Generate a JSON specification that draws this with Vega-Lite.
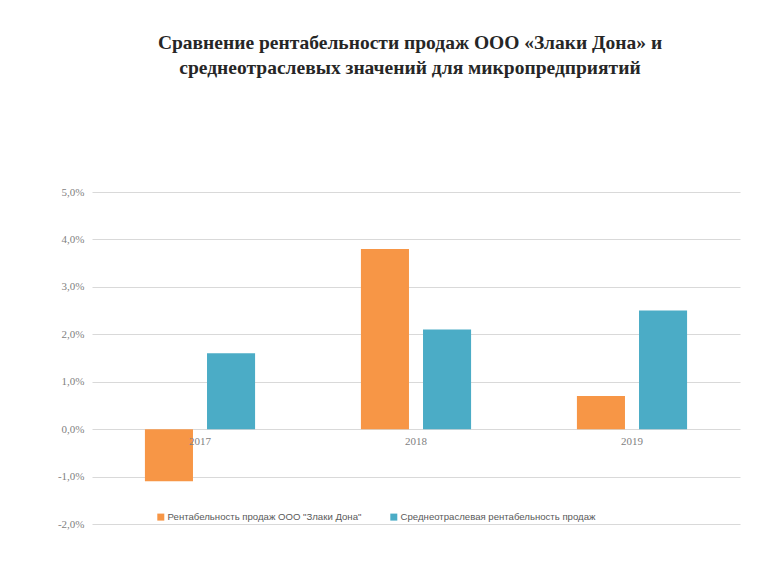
{
  "$schema": "https://vega.github.io/schema/vega-lite/v6.json",
  "width": 648,
  "height": 332,
  "autosize": {"type": "none"},
  "padding": {"left": 92, "top": 192, "right": 28, "bottom": 52},
  "background": "white",
  "config": {"view": {"stroke": null}, "font": "Liberation Serif"},
  "title": {
    "text": ["Сравнение рентабельности продаж ООО «Злаки Дона»  и", "среднеотраслевых значений для микропредприятий"],
    "font": "Liberation Serif",
    "fontSize": 19.5,
    "fontWeight": "bold",
    "color": "#262626",
    "anchor": "middle",
    "offset": 108,
    "lineHeight": 25,
    "dx": -6
  },
  "data": {
    "values": [
      {"year": "2017", "series": "Рентабельность продаж ООО \"Злаки Дона\"", "value": -0.011},
      {"year": "2017", "series": "Среднеотраслевая рентабельность продаж", "value": 0.016},
      {"year": "2018", "series": "Рентабельность продаж ООО \"Злаки Дона\"", "value": 0.038},
      {"year": "2018", "series": "Среднеотраслевая рентабельность продаж", "value": 0.021},
      {"year": "2019", "series": "Рентабельность продаж ООО \"Злаки Дона\"", "value": 0.007},
      {"year": "2019", "series": "Среднеотраслевая рентабельность продаж", "value": 0.025}
    ]
  },
  "mark": {"type": "bar"},
  "encoding": {
    "x": {
      "field": "year",
      "type": "nominal",
      "scale": {"paddingInner": 0.49, "paddingOuter": 0.245},
      "axis": {
        "title": null,
        "labelAngle": 0,
        "domain": false,
        "ticks": false,
        "offset": -95,
        "labelFont": "Liberation Serif",
        "labelFontSize": 11,
        "labelColor": "#7f7f7f",
        "labelPadding": 6,
        "zindex": 1
      }
    },
    "xOffset": {
      "field": "series",
      "type": "nominal",
      "scale": {
        "domain": ["Рентабельность продаж ООО \"Злаки Дона\"", "Среднеотраслевая рентабельность продаж"],
        "paddingInner": 0.226,
        "paddingOuter": 0
      }
    },
    "y": {
      "field": "value",
      "type": "quantitative",
      "scale": {"domain": [-0.02, 0.05], "nice": false},
      "axis": {
        "title": null,
        "values": [-0.02, -0.01, 0, 0.01, 0.02, 0.03, 0.04, 0.05],
        "labelExpr": "replace(replace(format(datum.value, '.1%'), '.', ','), '−', '-')",
        "domain": false,
        "ticks": false,
        "grid": true,
        "gridColor": "#d9d9d9",
        "gridWidth": 1,
        "labelFont": "Liberation Serif",
        "labelFontSize": 11,
        "labelColor": "#7f7f7f",
        "labelPadding": 8
      }
    },
    "color": {
      "field": "series",
      "type": "nominal",
      "scale": {
        "domain": ["Рентабельность продаж ООО \"Злаки Дона\"", "Среднеотраслевая рентабельность продаж"],
        "range": ["#f79646", "#4bacc6"]
      },
      "legend": {
        "orient": "none",
        "legendX": 64,
        "legendY": 320,
        "direction": "horizontal",
        "title": null,
        "symbolType": "square",
        "symbolSize": 49,
        "symbolStrokeWidth": 0,
        "labelFont": "Liberation Sans",
        "labelFontSize": 9.6,
        "labelColor": "#595959",
        "labelOffset": 2,
        "labelLimit": 0,
        "columnPadding": 27
      }
    }
  }
}
